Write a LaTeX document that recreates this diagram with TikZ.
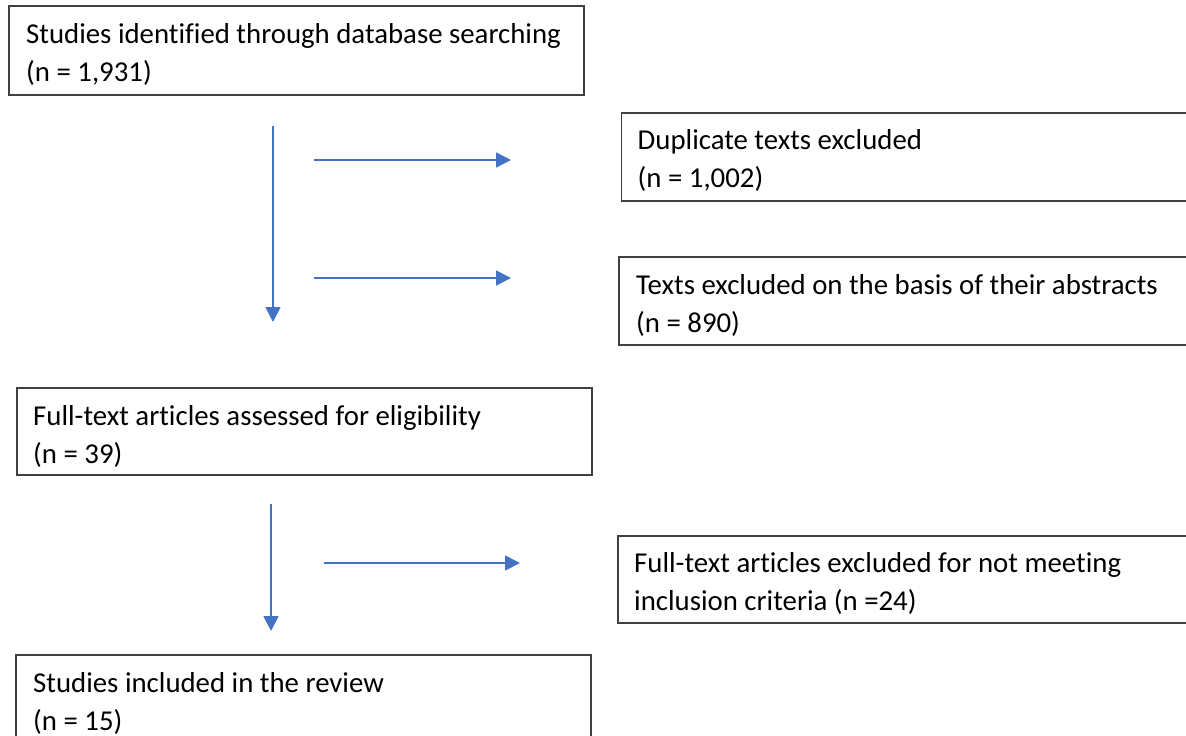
\documentclass[tikz,border=0pt]{standalone}
\usepackage{fontspec}
\setmainfont{Carlito}[Ligatures=NoCommon]
\usetikzlibrary{arrows.meta}
\definecolor{flowblue}{HTML}{4472C4}
\definecolor{boxline}{HTML}{404040}
\tikzset{
  stagebox/.style={draw=boxline, line width=1.8pt, anchor=north west,
    inner sep=0pt, minimum width=#1},
  stagebox/.default=575pt,
  stagetext/.style={anchor=north west, inner sep=0pt, align=left,
    font=\fontsize{28.8}{38}\selectfont,
    execute at begin node={\rule{0pt}{24pt}}},
  flow/.style={draw=flowblue, line width=1.8pt,
    -{Triangle[length=15pt,width=15pt]}}
}
\begin{document}
\begin{tikzpicture}[x=1pt,y=-1pt]
  \clip (0,0) rectangle (1186,736);
  \fill[white] (0,0) rectangle (1186,736);

  % main column
  \node[stagebox, minimum height=89pt] (ident) at (8,5) {};
  \node[stagetext] (identtxt) at ([shift={(18,18)}]ident.north west)
    {Studies identified through database searching\\(n = 1,931)};

  \node[stagebox, minimum height=87pt] (full) at (16,387) {};
  \node[stagetext] (fulltxt) at ([shift={(17,18)}]full.north west)
    {Full-text articles assessed for eligibility\\(n = 39)};

  \node[stagebox, minimum height=120pt] (incl) at (15,654) {};
  \node[stagetext] (incltxt) at ([shift={(18,18)}]incl.north west)
    {Studies included in the review\\(n = 15)};

  % exclusion column
  \node[stagebox=600pt, minimum height=88pt] (dup) at (620.5,112) {};
  \node[stagetext] (duptxt) at ([shift={(17,17)}]dup.north west)
    {Duplicate texts excluded\\(n = 1,002)};

  \node[stagebox=600pt, minimum height=88pt] (abs) at (618,256) {};
  \node[stagetext] (abstxt) at ([shift={(18,18)}]abs.north west)
    {Texts excluded on the basis of their abstracts\\(n = 890)};

  \node[stagebox=600pt, minimum height=87pt] (crit) at (617,535) {};
  \node[stagetext] (crittxt) at ([shift={(17,17)}]crit.north west)
    {Full-text articles excluded for not meeting\\inclusion criteria (n =24)};

  % flow arrows
  \coordinate (d1s) at (273,126);
  \coordinate (d1e) at (273,322);
  \coordinate (x1s) at (314,160);
  \coordinate (x1e) at (511,160);
  \coordinate (x2s) at (314,278);
  \coordinate (x2e) at (511,278);
  \coordinate (d2s) at (271,504);
  \coordinate (d2e) at (271,631);
  \coordinate (x3s) at (324,563);
  \coordinate (x3e) at (520,563);

  \draw[flow] (d1s) -- (d1e);
  \draw[flow] (x1s) -- (x1e);
  \draw[flow] (x2s) -- (x2e);
  \draw[flow] (d2s) -- (d2e);
  \draw[flow] (x3s) -- (x3e);
\end{tikzpicture}
\end{document}
